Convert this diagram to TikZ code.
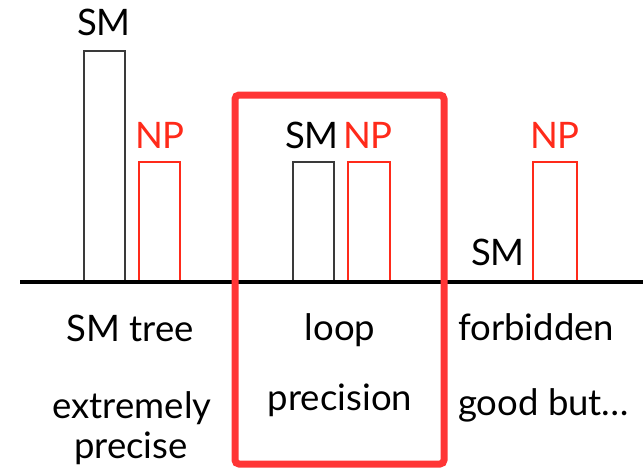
\documentclass[tikz,border=0pt]{standalone}
\usepackage{fontspec}
\setmainfont{Lato}
\definecolor{npred}{HTML}{FF2A1A}
\definecolor{boxred}{HTML}{FF3535}
\definecolor{smbar}{HTML}{3A3A3A}
\begin{document}
\begin{tikzpicture}[x=1pt,y=-1pt,
  lbl/.style={inner sep=0pt,anchor=base,font=\fontsize{36.5}{40}\selectfont},
  smlbl/.style={lbl,text=black},
  nplbl/.style={lbl,text=npred},
  smbarstyle/.style={draw=smbar,line width=1.5pt},
  npbarstyle/.style={draw=npred,line width=1.3pt}]
\useasboundingbox (0,0) rectangle (643,472);

% bars
\draw[smbarstyle] (84,282) rectangle (125,51);
\draw[npbarstyle] (139,282) rectangle (180,162);
\draw[smbarstyle] (293,282) rectangle (334,162);
\draw[npbarstyle] (348,282) rectangle (390,162);
\draw[npbarstyle] (533,282) rectangle (577,162);

% axis
\coordinate (axL) at (20,282);
\coordinate (axR) at (643,282);
\draw[line width=4pt] (axL) -- (axR);

% highlight frame around the middle case
\draw[boxred,line width=7pt,rounded corners=4pt] (235,95) rectangle (444,464);

% bar labels
\node[smlbl] (sm1) at (104,35) {SM};
\node[nplbl] (np1) at (160,148) {NP};
\node[smlbl] (sm2) at (312,148) {SM};
\node[nplbl] (np2) at (368,148) {NP};
\node[smlbl] (sm3) at (498,265) {SM};
\node[nplbl] (np3) at (555,148) {NP};

% captions
\node[smlbl] (c1a) at (130,341) {SM tree};
\node[smlbl] (c1b) at (132,418) {extremely};
\node[smlbl] (c1c) at (131,458) {precise};
\node[smlbl] (c2a) at (340,340) {loop};
\node[smlbl] (c2b) at (340,410) {precision};
\node[smlbl,anchor=base west] (c3a) at (458,340) {forbidden};
\node[smlbl,anchor=base west] (c3b) at (458,415) {good but…};
\end{tikzpicture}
\end{document}
